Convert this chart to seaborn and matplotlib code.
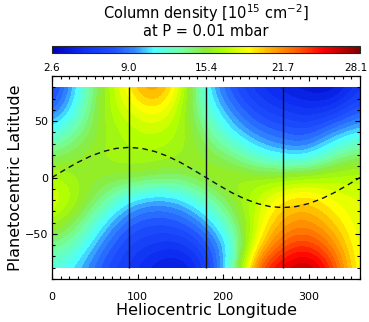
import numpy as np
import matplotlib
matplotlib.use("Agg")
import matplotlib.pyplot as plt
import seaborn as sns
from matplotlib.colors import LinearSegmentedColormap, Normalize
from matplotlib.patches import Rectangle
from matplotlib.ticker import MultipleLocator, FixedLocator
import matplotlib.transforms as mtransforms
import matplotlib.cm as cm

# ---------------- data ----------------
longitudes = [0, 30, 60, 90, 120, 150, 180, 210, 240, 270, 300, 330, 360]
latitudes = [-80, -60, -40, -20, 0, 20, 40, 60, 80]
dens_lat_m80 = [12.0, 10.5, 7.7, 6.2, 4.6, 3.9, 6.2, 12.0, 23.5, 25.6, 27.3, 23.5, 17.9]
dens_lat_m60 = [14.0, 12.5, 9.0, 6.9, 6.2, 5.9, 7.7, 11.0, 19.4, 23.0, 23.8, 21.5, 17.9]
dens_lat_m40 = [16.6, 14.6, 11.0, 8.2, 7.7, 8.0, 9.7, 13.6, 17.9, 21.0, 21.5, 19.7, 17.9]
dens_lat_m20 = [18.4, 16.4, 13.8, 10.8, 9.7, 10.3, 12.8, 15.4, 17.4, 19.4, 19.9, 18.4, 17.9]
dens_lat_0 = [17.1, 15.9, 15.4, 15.4, 14.8, 14.6, 15.9, 16.4, 16.1, 16.4, 16.9, 17.1, 17.1]
dens_lat_p20 = [14.3, 15.4, 16.1, 16.6, 16.6, 16.1, 15.4, 14.1, 11.8, 10.5, 10.3, 13.3, 14.8]
dens_lat_p40 = [11.5, 13.8, 15.9, 16.9, 17.4, 16.6, 14.1, 11.0, 9.0, 8.2, 7.7, 9.7, 11.0]
dens_lat_p60 = [8.2, 11.8, 16.4, 17.9, 19.4, 17.1, 12.3, 9.2, 7.2, 6.4, 5.7, 6.2, 8.2]
dens_lat_p80 = [6.4, 11.0, 15.9, 19.4, 22.0, 18.4, 11.0, 7.7, 5.9, 4.6, 3.9, 3.6, 6.4]

subsolar_lon = [0, 15, 30, 45, 60, 75, 90, 105, 120, 135, 150, 165, 180,
                195, 210, 225, 240, 255, 270, 285, 300, 315, 330, 345, 360]
subsolar_lat = [0, 6.9, 13.4, 18.9, 23.1, 25.8, 26.7, 25.8, 23.1, 18.9, 13.4, 6.9, 0,
                -6.9, -13.4, -18.9, -23.1, -25.8, -26.7, -25.8, -23.1, -18.9, -13.4, -6.9, 0]

season_lons = [90, 180, 270]

cbar_min, cbar_max = 2.6, 28.1
cbar_ticks = [2.6, 8.975, 15.35, 21.725, 28.1]
cbar_labels = ["2.6", "9.0", "15.4", "21.7", "28.1"]

# ---------------- style ----------------
sns.set_style("ticks")
plt.rcParams["font.family"] = ["DejaVu Sans"]
plt.rcParams["text.color"] = "black"
plt.rcParams["axes.labelcolor"] = "black"
plt.rcParams["xtick.color"] = "black"
plt.rcParams["ytick.color"] = "black"

anchors = [
    (0.00, (0.00, 0.00, 0.72)),
    (0.10, (0.05, 0.18, 0.95)),
    (0.20, (0.12, 0.32, 1.00)),
    (0.27, (0.20, 0.55, 1.00)),
    (0.33, (0.30, 1.00, 1.00)),
    (0.42, (0.45, 1.00, 0.65)),
    (0.50, (0.55, 0.92, 0.20)),
    (0.56, (0.68, 1.00, 0.00)),
    (0.60, (0.85, 1.00, 0.00)),
    (0.64, (1.00, 1.00, 0.00)),
    (0.70, (1.00, 0.72, 0.00)),
    (0.80, (1.00, 0.35, 0.00)),
    (0.88, (1.00, 0.00, 0.00)),
    (1.00, (0.50, 0.00, 0.00)),
]
cmap_smooth = LinearSegmentedColormap.from_list("idlrain", anchors, N=256)
cmap_band = LinearSegmentedColormap.from_list("idlrain_b", anchors, N=40)
norm = Normalize(cbar_min, cbar_max)

W, H = 369, 322
fig = plt.figure(figsize=(W / 100, H / 100), dpi=100)
ax = fig.add_axes([52 / W, 1 - 279 / H, 308 / W, 203 / H])

grid = np.array([dens_lat_m80, dens_lat_m60, dens_lat_m40, dens_lat_m20, dens_lat_0,
                 dens_lat_p20, dens_lat_p40, dens_lat_p60, dens_lat_p80])
dlon = longitudes[1] - longitudes[0]
dlat = latitudes[1] - latitudes[0]
im = ax.imshow(grid, origin="lower", cmap=cmap_band, norm=norm,
               interpolation="bicubic", interpolation_stage="data", aspect="auto",
               extent=[longitudes[0] - dlon / 2, longitudes[-1] + dlon / 2,
                       latitudes[0] - dlat / 2, latitudes[-1] + dlat / 2])
clip = Rectangle((longitudes[0], latitudes[0]), longitudes[-1] - longitudes[0],
                 latitudes[-1] - latitudes[0], transform=ax.transData)
im.set_clip_path(clip)

ax.vlines(season_lons, latitudes[0], latitudes[-1], colors="#111111", lw=1.0)
sns.lineplot(x=subsolar_lon, y=subsolar_lat, ax=ax, color="#111111", lw=1.0,
             linestyle=(0, (4, 3)), sort=False)

ax.set_xlim(0, 360)
ax.set_ylim(-90, 90)
ax.xaxis.set_major_locator(MultipleLocator(100))
ax.xaxis.set_minor_locator(MultipleLocator(10))
ax.yaxis.set_major_locator(MultipleLocator(50))
ax.yaxis.set_minor_locator(MultipleLocator(10))
ax.tick_params(which="both", direction="in", top=True, right=True, color="k", width=0.8)
ax.tick_params(which="major", length=3.6, labelsize=8)
ax.tick_params(which="minor", length=2.0)
ax.tick_params(axis="x", pad=9)
ax.tick_params(axis="y", pad=3)
for s in ax.spines.values():
    s.set_linewidth(0.9)
    s.set_color("k")
ax.set_xlabel("Heliocentric Longitude", fontsize=11.5, labelpad=1)
ax.set_ylabel("Planetocentric Latitude", fontsize=11.5, labelpad=1)

# colorbar
cax = fig.add_axes([52 / W, 1 - 53 / H, 308 / W, 7 / H])
sm = cm.ScalarMappable(norm=norm, cmap=cmap_smooth)
cb = fig.colorbar(sm, cax=cax, orientation="horizontal")
cb.set_ticks(cbar_ticks)
cb.set_ticklabels(cbar_labels)
step = (cbar_max - cbar_min) / 8
cax.xaxis.set_minor_locator(FixedLocator([cbar_min + step * i for i in range(9)]))
cax.tick_params(which="both", direction="in", bottom=True, top=False, color="#444444",
                width=0.7, labelsize=7.5, pad=7)
cax.tick_params(which="major", length=2.5)
cax.tick_params(which="minor", length=2.0)
cb.outline.set_linewidth(0.8)
# nudge the last colorbar label so it stays inside the figure
last = cax.xaxis.get_major_ticks()[-1].label1
last.set_transform(last.get_transform() +
                   mtransforms.ScaledTranslation(-4 / 100, 0, fig.dpi_scale_trans))

fig.text(206 / W, 1 - 13 / H, r"Column density $[10^{15}$ cm$^{-2}]$", ha="center",
         va="center", fontsize=10.5)
fig.text(206 / W, 1 - 31 / H, "at P = 0.01 mbar", ha="center", va="center", fontsize=10.5)

fig.savefig("out.png", dpi=100)
